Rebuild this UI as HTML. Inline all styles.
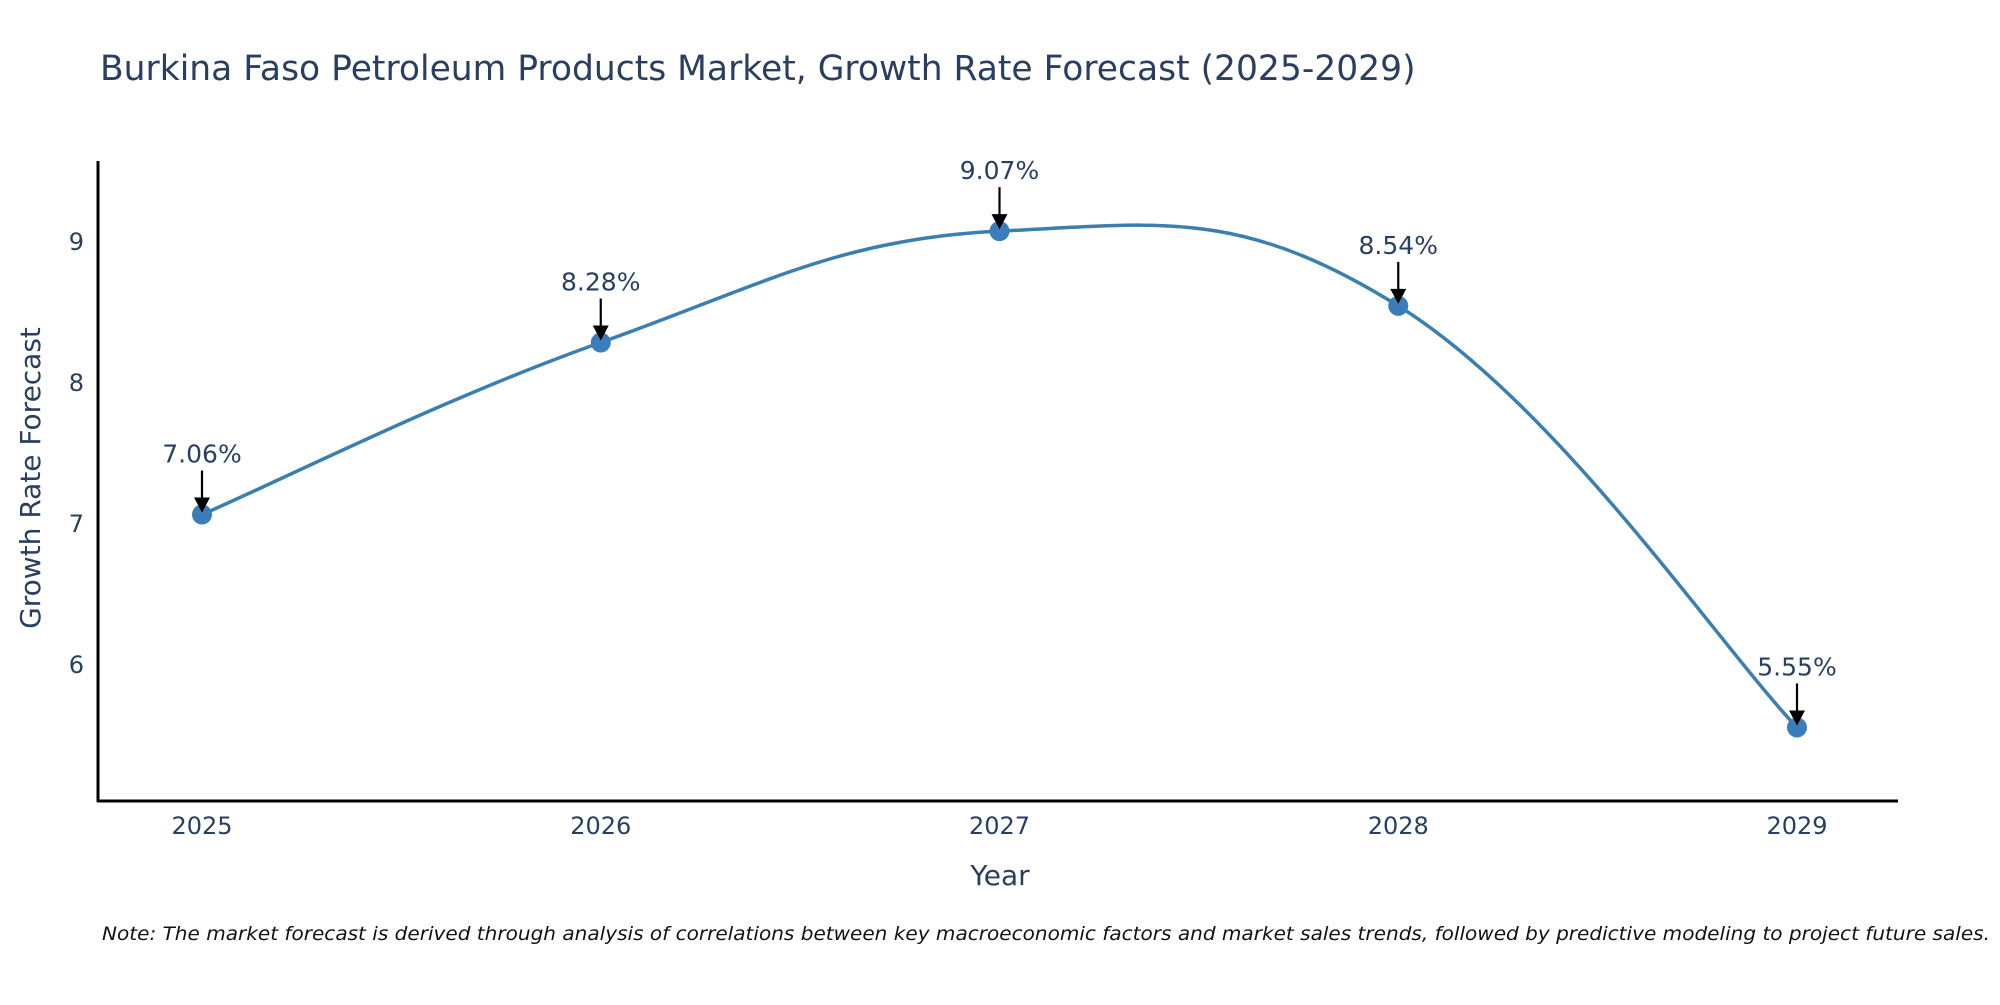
<!DOCTYPE html>
<html><head><meta charset="utf-8"><style>
body{margin:0;background:#fff}
svg text{font-family:"DejaVu Sans","Liberation Sans",sans-serif;fill:#2a3f5f}
</style></head><body>
<svg id="chart" width="2000" height="1000" viewBox="0 0 2000 1000" xmlns="http://www.w3.org/2000/svg">
<rect width="2000" height="1000" fill="#fff"/>
<text x="100" y="80" font-size="34.5">Burkina Faso Petroleum Products Market, Growth Rate Forecast (2025-2029)</text>
<g id="plot"></g>
<text x="40" y="478" font-size="28" text-anchor="middle" transform="rotate(-90 40 478)">Growth Rate Forecast</text>
<text x="1000" y="885" font-size="28" text-anchor="middle">Year</text>
<text x="102" y="940" font-size="19" font-style="italic" textLength="1888" lengthAdjust="spacingAndGlyphs" style="fill:#111">Note: The market forecast is derived through analysis of correlations between key macroeconomic factors and market sales trends, followed by predictive modeling to project future sales.</text>
</svg>
<script>
const years=["2025","2026","2027","2028","2029"];
const values=[7.06,8.28,9.07,8.54,5.55];
const yTicks=[6,7,8,9];
const labels=["7.06%","8.28%","9.07%","8.54%","5.55%"];

const NS="http://www.w3.org/2000/svg";
const g=document.getElementById('plot');
function xs(i){return 202+i*398.75;}
function ys(v){return 523-(v-7)*141;}
function mk(tag,attrs){const e=document.createElementNS(NS,tag);for(const k in attrs)e.setAttribute(k,attrs[k]);g.appendChild(e);return e;}

let ax=mk('line',{x1:98,y1:161,x2:98,y2:802,stroke:'#000','stroke-width':3});


let bx=mk('line',{x1:97,y1:801,x2:1898,y2:801,stroke:'#000','stroke-width':3});


yTicks.forEach(t=>{
  const e=mk('text',{x:84,y:ys(t)+9,'font-size':24,'text-anchor':'end'});
  e.textContent=t;
  
  
});
years.forEach((y,i)=>{
  const e=mk('text',{x:xs(i),y:834,'font-size':24,'text-anchor':'middle'});
  e.textContent=y;
  
  
});
const pts=values.map((v,i)=>[xs(i),ys(v)]);
let d='M'+pts[0][0]+','+pts[0][1];
const s=0.2;
for(let i=0;i<pts.length-1;i++){
  const p0=pts[Math.max(i-1,0)],p1=pts[i],p2=pts[i+1],p3=pts[Math.min(i+2,pts.length-1)];
  const c1=[p1[0]+(p2[0]-p0[0])*s,p1[1]+(p2[1]-p0[1])*s];
  const c2=[p2[0]-(p3[0]-p1[0])*s,p2[1]-(p3[1]-p1[1])*s];
  d+=' C'+c1[0]+','+c1[1]+' '+c2[0]+','+c2[1]+' '+p2[0]+','+p2[1];
}
const line=mk('path',{d:d,fill:'none',stroke:'#3b7fb0','stroke-width':3.5});


pts.forEach((p,i)=>{
  const c=mk('circle',{cx:p[0],cy:p[1],r:10,fill:'#3b7dba'});
  
  
  const a=mk('line',{x1:p[0],y1:p[1]-44,x2:p[0],y2:p[1]-14,stroke:'#000','stroke-width':2.2});
  
  
  const h=mk('polygon',{points:(p[0]-8)+','+(p[1]-17)+' '+(p[0]+8)+','+(p[1]-17)+' '+p[0]+','+(p[1]-2),fill:'#000'});
  
  
  const t=mk('text',{x:p[0],y:p[1]-52,'font-size':25,'text-anchor':'middle'});
  t.textContent=labels[i];
  
  
});
</script>
</body></html>
